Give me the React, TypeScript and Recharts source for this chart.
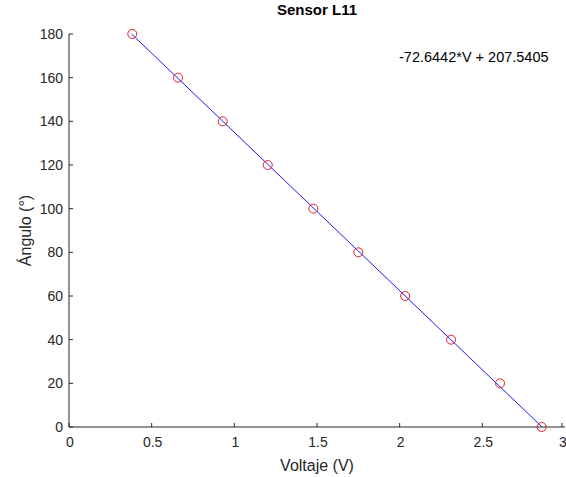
import { ComposedChart, Line, Scatter, XAxis, YAxis, Label } from "recharts";

const voltages = [0.383, 0.659, 0.93, 1.202, 1.478, 1.75, 2.033, 2.311, 2.607, 2.859];
const angles = [180, 160, 140, 120, 100, 80, 60, 40, 20, 0];

// fitted line, drawn between its two visible ends
const fitVoltages = [0.38, 2.86];
const fitAngles = [179.9, 0.1];

const xTicks = [0, 0.5, 1, 1.5, 2, 2.5, 3];
const yTicks = [0, 20, 40, 60, 80, 100, 120, 140, 160, 180];

const points = voltages.map((v, i) => ({ v, a: angles[i] }));
const fitLine = fitVoltages.map((v, i) => ({ v, a: fitAngles[i] }));

const FONT = "'Liberation Sans', Arial, Helvetica, sans-serif";
const INK = "#262626";

function XTick({ x, y, payload }: any) {
  return (
    <g>
      <line x1={x} y1={y} x2={x} y2={y - 4} stroke={INK} strokeWidth={1} />
      <text x={x + 1} y={y + 20} textAnchor="middle" fill={INK} fontSize={14} fontFamily={FONT}>
        {payload.value}
      </text>
    </g>
  );
}

function YTick({ x, y, payload }: any) {
  return (
    <g>
      <line x1={x} y1={y} x2={x + 4} y2={y} stroke={INK} strokeWidth={1} />
      <text x={x - 6} y={y + 5} textAnchor="end" fill={INK} fontSize={14} fontFamily={FONT}>
        {payload.value}
      </text>
    </g>
  );
}

function RedCircle({ cx, cy }: any) {
  return <circle cx={cx} cy={cy} r={4.5} fill="none" stroke="#e0212b" strokeWidth={1} />;
}

// rotated y-axis title, placed in the strip left of the tick labels
function YTitle({ viewBox }: any) {
  const cx = 31;
  const cy = viewBox.y + viewBox.height / 2;
  return (
    <text
      x={cx}
      y={cy}
      transform={`rotate(-90, ${cx}, ${cy})`}
      textAnchor="middle"
      fill={INK}
      fontSize={16}
      fontFamily={FONT}
    >
      Ángulo (°)
    </text>
  );
}

export default function App() {
  return (
    <div style={{ position: "absolute", left: 0, top: 0, width: 566, height: 477, background: "#fff" }}>
      <ComposedChart width={566} height={477} margin={{ top: 34, right: 1, bottom: 0, left: 9 }}>
        <XAxis
          type="number"
          dataKey="v"
          domain={[0, 3]}
          ticks={xTicks}
          tick={<XTick />}
          tickLine={false}
          tickSize={0}
          tickMargin={0}
          height={50}
          stroke={INK}
          allowDataOverflow
        >
          <Label value="Voltaje (V)" position="insideBottom" offset={6} fill={INK} fontSize={16} fontFamily={FONT} />
        </XAxis>
        <YAxis
          type="number"
          dataKey="a"
          domain={[0, 180]}
          ticks={yTicks}
          tick={<YTick />}
          tickLine={false}
          tickSize={0}
          tickMargin={0}
          width={60}
          stroke={INK}
        >
          <Label content={<YTitle />} />
        </YAxis>
        <Line
          data={fitLine}
          dataKey="a"
          stroke="#1a1aff"
          strokeWidth={1}
          dot={false}
          activeDot={false}
          isAnimationActive={false}
        />
        <Scatter data={points} dataKey="a" shape={<RedCircle />} isAnimationActive={false} />
      </ComposedChart>
      <div
        style={{
          position: "absolute",
          left: 69,
          width: 496,
          top: 1,
          textAlign: "center",
          fontFamily: FONT,
          fontWeight: "bold",
          fontSize: 15,
          color: "#000",
        }}
      >
        Sensor L11
      </div>
      <div
        style={{
          position: "absolute",
          left: 399,
          top: 49,
          fontFamily: FONT,
          fontSize: 14.5,
          color: "#000",
          whiteSpace: "nowrap",
        }}
      >
        -72.6442*V + 207.5405
      </div>
    </div>
  );
}
